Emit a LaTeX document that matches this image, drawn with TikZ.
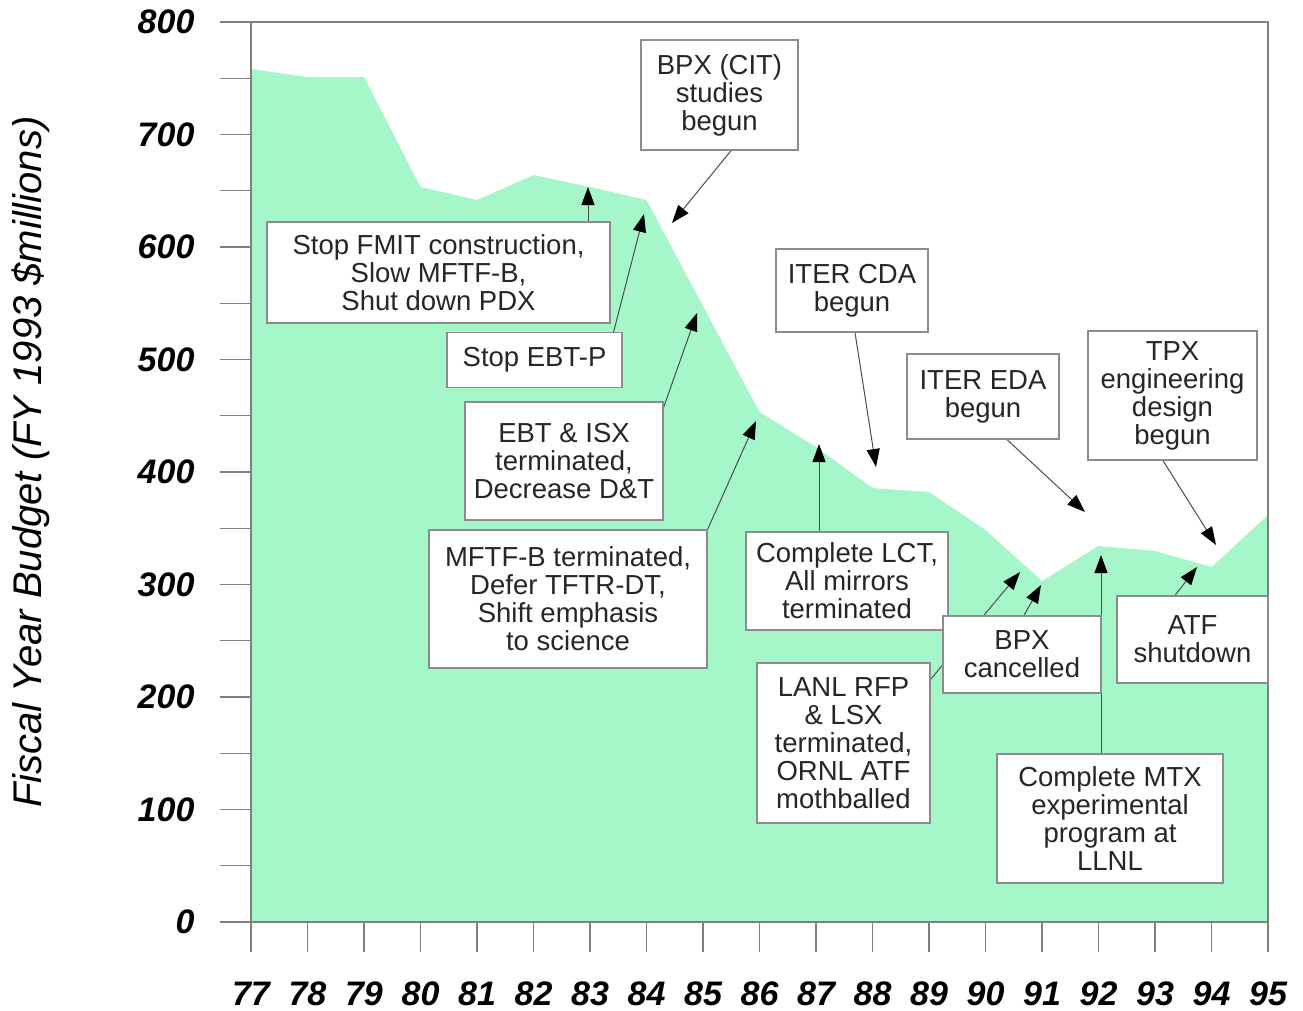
\documentclass[tikz,border=0pt]{standalone}
\usepackage{fontspec}
\setmainfont{Liberation Sans}
\usetikzlibrary{arrows.meta}
\pgfdeclarelayer{bg}
\pgfdeclarelayer{mid}
\pgfsetlayers{bg,mid,main}
\definecolor{mint}{HTML}{A5F7C9}
\definecolor{axisgray}{HTML}{808080}
\definecolor{boxgray}{HTML}{8C8C8C}
\begin{document}
\begin{tikzpicture}[x=1pt,y=-1pt,
  box/.style={draw=boxgray,line width=1.2pt,fill=white,inner sep=0pt,align=center,
    font=\fontsize{27.5}{28}\selectfont,text=black!85},
  arr/.style={draw=black!70,line width=1pt,-{Triangle[length=18pt,width=13pt,color=black]}},
  axisline/.style={draw=axisgray,line width=1.2pt},
  ylab/.style={anchor=east,font=\fontsize{34}{34}\selectfont\bfseries\itshape},
  xlab/.style={anchor=center,font=\fontsize{34}{34}\selectfont\bfseries\itshape}]
\useasboundingbox (0,0) rectangle (1303,1010);

% annotation boxes
\node[box,minimum width=343pt,minimum height=101pt] (fmit) at (438.5,272.5) {Stop FMIT construction,\\Slow MFTF-B,\\Shut down PDX};
\node[box,minimum width=175pt,minimum height=55pt] (ebtp) at (534.5,360) {Stop EBT-P};
\node[box,minimum width=198pt,minimum height=118pt] (ebt) at (564,461) {EBT \& ISX\\terminated,\\Decrease D\&T};
\node[box,minimum width=278pt,minimum height=138pt] (mftf) at (568,599) {MFTF-B terminated,\\Defer TFTR-DT,\\Shift emphasis\\to science};
\node[box,minimum width=157pt,minimum height=110pt] (bpxcit) at (719.5,95) {BPX (CIT)\\studies\\begun};
\node[box,minimum width=152pt,minimum height=83pt] (cda) at (852,290.5) {ITER CDA\\begun};
\node[box,minimum width=152pt,minimum height=85pt] (eda) at (983,396.5) {ITER EDA\\begun};
\node[box,minimum width=169pt,minimum height=129pt] (tpx) at (1172.5,395.5) {TPX\\engineering\\design\\begun};
\node[box,minimum width=202pt,minimum height=98pt] (lct) at (847,581) {Complete LCT,\\All mirrors\\terminated};
\node[box,minimum width=158pt,minimum height=77pt] (bpxc) at (1022,654.5) {BPX\\cancelled};
\node[box,minimum width=151pt,minimum height=87pt] (atf) at (1192.5,639.5) {ATF\\shutdown};
\node[box,minimum width=173pt,minimum height=160pt] (lanl) at (843.5,743) {LANL RFP\\\& LSX\\terminated,\\ORNL ATF\\mothballed};
\node[box,minimum width=226pt,minimum height=129pt] (mtx) at (1110,818.5) {Complete MTX\\experimental\\program at\\LLNL};

% axis labels
\node[rotate=90,font=\fontsize{40}{40}\selectfont\itshape] (title) at (31,462) {Fiscal Year Budget (FY 1993 \$millions)};
\foreach \v [count=\k from 0] in {800,700,600,500,400,300,200,100,0}
  \node[ylab] (y\k) at (198,{22+112.5*\k}) {\v};
\foreach \yr [count=\k from 0] in {77,...,95}
  \node[xlab] (x\k) at ({251+56.5*\k},994) {\yr};

\begin{pgfonlayer}{bg}
  \fill[mint] (251,922) -- (251,69) -- (307.5,77) -- (364,77) -- (420.5,187) -- (477,200)
    -- (533.5,175) -- (590,187) -- (646.5,200) -- (703,306) -- (759.5,412) -- (816,447)
    -- (872.5,488) -- (929,492) -- (985.5,530) -- (1042,581) -- (1098.5,546) -- (1155,551)
    -- (1211.5,567) -- (1268,515) -- (1268,922) -- cycle;
  \foreach \k in {0,...,16}
    \draw[axisline] (220,{22+56.25*\k}) -- (251,{22+56.25*\k});
  \foreach \k in {0,...,18}
    \draw[axisline] ({251+56.5*\k},922) -- ({251+56.5*\k},952);
  \draw[axisline] (220,22) -- (1268,22) -- (1268,922);
  \draw[axisline] (220,922) -- (1268,922);
  \draw[axisline] (251,22) -- (251,922);
\end{pgfonlayer}

% arrow tips
\coordinate (t1) at (588,187);
\coordinate (t2) at (644,214);
\coordinate (t3) at (697,313);
\coordinate (t4) at (756,421);
\coordinate (t5) at (672,223);
\coordinate (t6) at (876,467);
\coordinate (t7) at (1085,512);
\coordinate (t8) at (1216,545);
\coordinate (t9) at (819,444);
\coordinate (t10) at (1020,572);
\coordinate (t11) at (1041,585);
\coordinate (t12) at (1101,555);
\coordinate (t13) at (1197,567);

\begin{pgfonlayer}{mid}
  \draw[arr] (fmit.north -| t1) -- (t1);
  \draw[arr] ([xshift=-9pt]ebtp.north east) -- (t2);
  \draw[arr] ([yshift=-6pt]ebt.north east) -- (t3);
  \draw[arr] (mftf.north east) -- (t4);
  \draw[arr] ([xshift=11.5pt]bpxcit.south) -- (t5);
  \draw[arr] ([xshift=3pt]cda.south) -- (t6);
  \draw[arr] ([xshift=24pt]eda.south) -- (t7);
  \draw[arr] ([xshift=-9.5pt]tpx.south) -- (t8);
  \draw[arr] (lct.north -| t9) -- (t9);
  \draw[arr] ([yshift=-17pt]lanl.north east) -- (t10);
  \draw[arr] ([xshift=2pt]bpxc.north) -- (t11);
  \draw[arr] (mtx.north -| t12) -- (t12);
  \draw[arr] ([xshift=-17.5pt]atf.north) -- (t13);
\end{pgfonlayer}
\end{tikzpicture}
\end{document}
